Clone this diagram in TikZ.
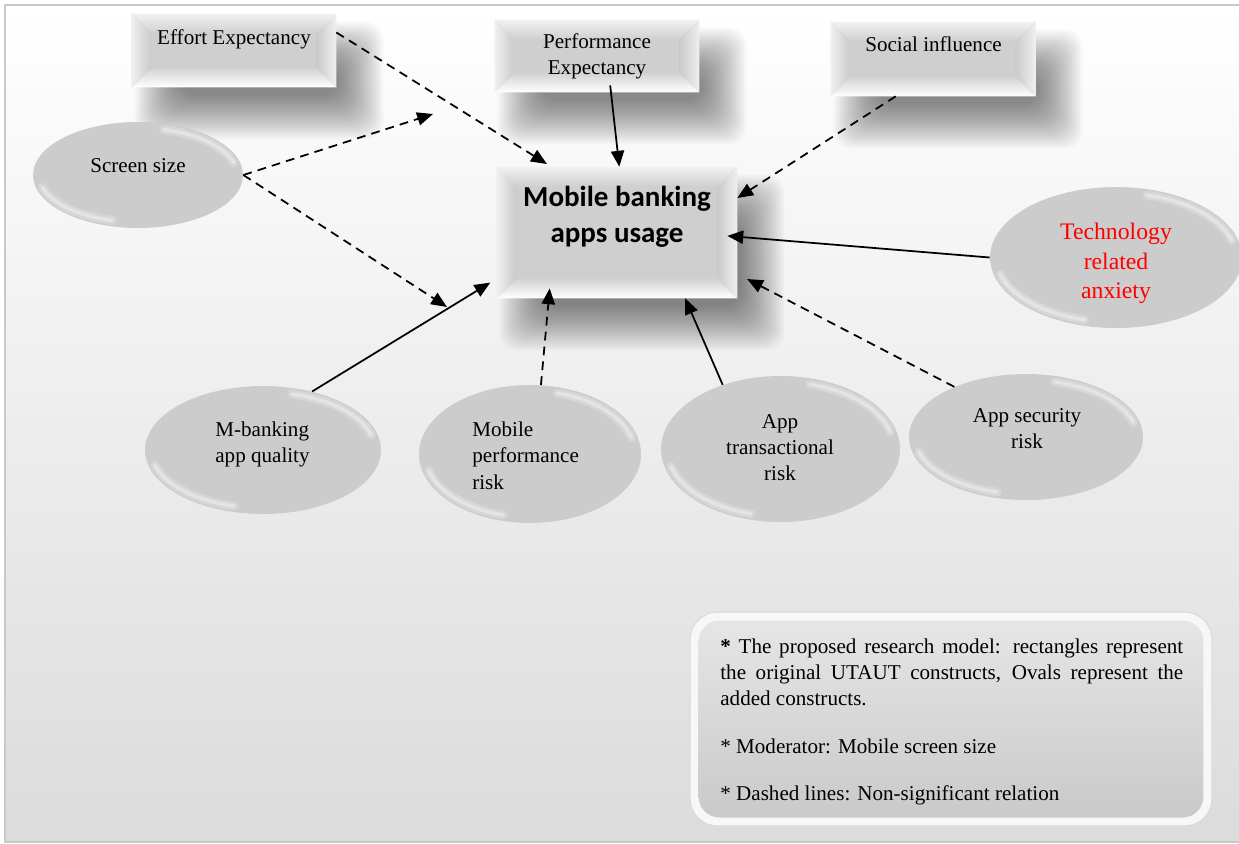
\documentclass[tikz,border=0pt]{standalone}
\usepackage{fontspec}
\setmainfont{Liberation Serif}
\newfontfamily\calibri{Carlito}
\usetikzlibrary{arrows.meta,calc,shapes.geometric}

\pgfdeclarelayer{back}
\pgfdeclarelayer{shadow}
\pgfsetlayers{back,shadow,main}

\tikzset{
  bevel/.style={rectangle, inner sep=0pt, fill=gray!38},
  oval/.style={ellipse, inner sep=0pt, fill=gray!40},
  glint/.style={white, line cap=round},
  lbl/.style={inner sep=0pt, anchor=north, align=center,
    font=\fontsize{12}{14.8}\selectfont},
  arr/.style={line width=1pt, -{Triangle[length=9pt,width=7.5pt]}},
  dasharr/.style={arr, dash pattern=on 5pt off 3.5pt},
}

% the four slanted faces of a raised box
\newcommand{\bevelfaces}[1]{%
  \shade[top color=gray!10, bottom color=gray!38] (#1.north west) -- (#1.north east)
    -- ($(#1.north east)+(-20,20)$) -- ($(#1.north west)+(20,20)$) -- cycle;
  \shade[top color=gray!36, bottom color=white] (#1.south west) -- (#1.south east)
    -- ($(#1.south east)+(-20,-20)$) -- ($(#1.south west)+(20,-20)$) -- cycle;
  \shade[left color=gray!12, right color=gray!42] (#1.north west) -- ($(#1.north west)+(20,20)$)
    -- ($(#1.south west)+(20,-20)$) -- (#1.south west) -- cycle;
  \shade[left color=gray!42, right color=gray!12] (#1.north east) -- ($(#1.north east)+(-20,20)$)
    -- ($(#1.south east)+(-20,-20)$) -- (#1.south east) -- cycle;
}
% soft drop shadow, lower right of a box
\newcommand{\softshadow}[1]{%
  \begin{pgfonlayer}{shadow}
  \foreach \d in {-22,-20,...,22}
    \fill[black, opacity=0.025, rounded corners=0.35cm]
      ($(#1.north west)+(25+\d,30+\d)$) rectangle ($(#1.south east)+(25-\d,30-\d)$);
  \end{pgfonlayer}
}
% sheen on an oval: node, half width, half height
\newcommand{\gloss}[3]{%
  \foreach \w/\o in {5pt/0.2,2pt/0.35} {
  \draw[glint, line width=\w, opacity=\o] ($(#1.center)+({(#2-6)*cos(-15)},{(#3-6)*sin(-15)})$)
    arc[start angle=-15, end angle=-75, x radius=#2-6, y radius=#3-6];
  \draw[glint, line width=\w, opacity=\o] ($(#1.center)+({(#2-6)*cos(105)},{(#3-6)*sin(105)})$)
    arc[start angle=105, end angle=165, x radius=#2-6, y radius=#3-6];
  }
}

\begin{document}
\begin{tikzpicture}[x=0.02cm, y=-0.02cm]
\useasboundingbox (0,0) rectangle (1239,843);
\begin{pgfonlayer}{back}
\fill[white] (0,0) rectangle (1239,843);
\shade[top color=white, bottom color=gray!28] (5,5) rectangle (1239,842);
\draw[gray!42, line width=1.5pt] (1239,5) -- (5,5) -- (5,842) -- (1239,842);
\end{pgfonlayer}

% UTAUT constructs
\node[bevel, minimum width=4.08cm, minimum height=1.46cm] (eff) at (234,50.5) {};
\node[bevel, minimum width=4.08cm, minimum height=1.44cm] (perf) at (597,56) {};
\node[bevel, minimum width=4.08cm, minimum height=1.48cm] (soc) at (933,59) {};
\node[bevel, minimum width=4.8cm, minimum height=2.62cm] (main) at (617,232.5) {};
\foreach \b in {eff,perf,soc,main} {\softshadow{\b}\bevelfaces{\b}}

% added constructs
\node[oval, minimum width=4.2cm, minimum height=2.12cm] (scr) at (138,175) {};
\node[oval, minimum width=5.04cm, minimum height=2.82cm] (tech) at (1116,257.5) {};
\node[oval, minimum width=4.72cm, minimum height=2.56cm] (mbq) at (263,450) {};
\node[oval, minimum width=4.44cm, minimum height=2.76cm] (mpr) at (530,454) {};
\node[oval, minimum width=4.78cm, minimum height=2.92cm] (trans) at (780.5,449) {};
\node[oval, minimum width=4.68cm, minimum height=2.52cm] (sec) at (1026,437) {};
\gloss{scr}{105}{53}
\gloss{tech}{126}{70.5}
\gloss{mbq}{118}{64}
\gloss{mpr}{111}{69}
\gloss{trans}{119.5}{73}
\gloss{sec}{117}{63}

\node[lbl] (efftxt) at (234,29.5) {Effort Expectancy};
\node[lbl] (perftxt) at (597,33) {Performance\\Expectancy};
\node[lbl] (soctxt) at (933.5,36) {Social influence};
\node[lbl, font=\calibri\bfseries\fontsize{16.5}{20.5}\selectfont] (maintxt) at (617,186) {Mobile banking\\apps usage};
\node[lbl] (scrtxt) at (138,158) {Screen size};
\node[lbl, text=red, font=\fontsize{13.5}{16.8}\selectfont] (techtxt) at (1116,223) {Technology\\related\\anxiety};
\node[lbl, anchor=north west, align=left] (mbqtxt) at (215,422) {M-banking\\app quality};
\node[lbl, anchor=north west, align=left] (mprtxt) at (472,422) {Mobile\\performance\\risk};
\node[lbl] (transtxt) at (780,414) {App\\transactional\\risk};
\node[lbl] (sectxt) at (1027,408) {App security\\risk};

% paths
\coordinate (modup) at (433,114);
\coordinate (moddn) at (447,307);
\draw[dasharr, shorten >=0.1cm] (eff.10) -- (main.135);
\draw[arr, shorten <=-0.14cm] (perf.-69) -- (main.88);
\draw[dasharr] (soc.225) -- (main.16);
\draw[arr, shorten >=-0.2cm] (tech.west) -- (main.-2);
\draw[dasharr, shorten >=0.22cm] (sec.145) -- (main.-19);
\draw[arr] (trans.132) -- (main.-44);
\draw[dasharr, shorten >=-0.2cm] (mpr.81) -- (main.-136);
\draw[arr, shorten >=0.15cm] (mbq.50) -- (main.201);
\draw[dasharr] (scr.east) -- (modup);
\draw[dasharr] (scr.east) -- (moddn);

% key
\node[rectangle, rounded corners=0.55cm, minimum width=10.44cm, minimum height=4.28cm,
  fill=gray!6, draw=gray!30, line width=0.6pt] (legend) at (951,719) {};
\shade[rounded corners=0.42cm, top color=gray!20, bottom color=gray!42]
  ($(legend.north west)+(9,9)$) rectangle ($(legend.south east)+(-9,-9)$);
\node[anchor=north west, inner sep=0pt, text width=9.26cm, align=justify,
  font=\fontsize{12}{15}\selectfont] (legtxt) at (720,638)
  {\textbf{*} The proposed research model: rectangles represent the original UTAUT constructs, Ovals represent the added constructs.\par\vspace{12pt}
  * Moderator: Mobile screen size\par\vspace{12pt}
  * Dashed lines: Non-significant relation};
\end{tikzpicture}
\end{document}
